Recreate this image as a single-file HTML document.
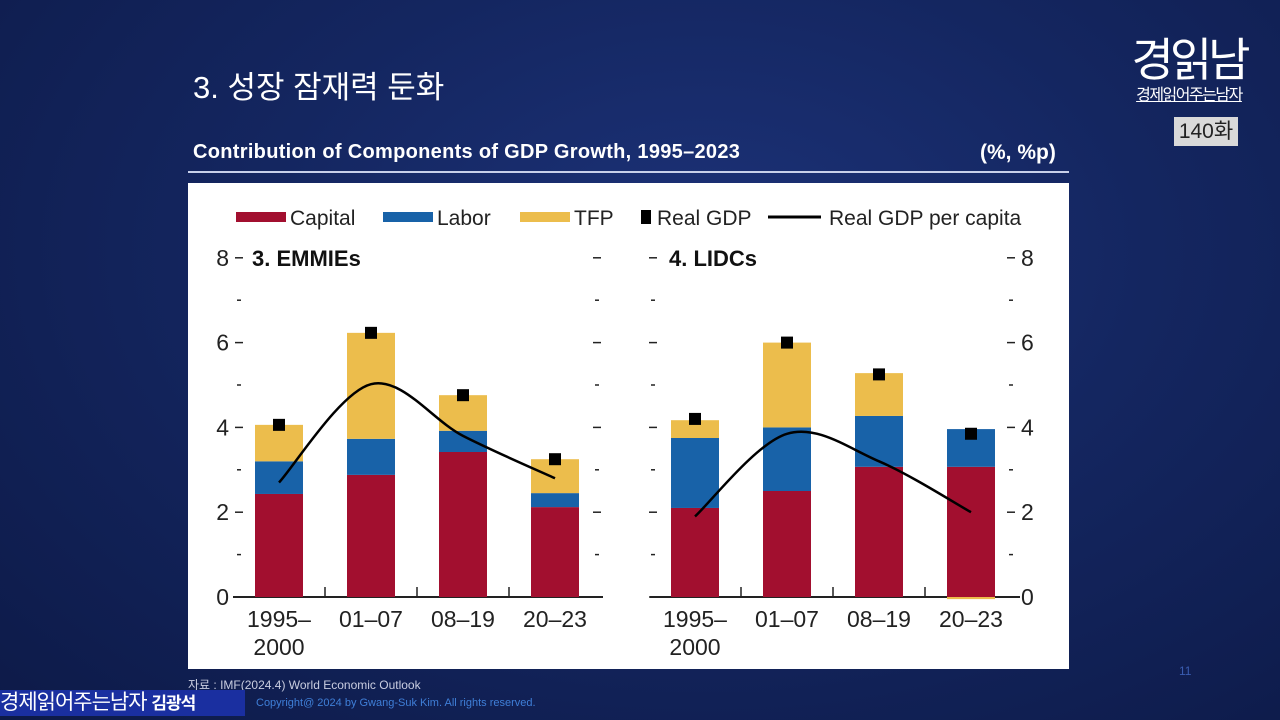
<!DOCTYPE html>
<html><head><meta charset="utf-8">
<style>
html,body{margin:0;padding:0;width:1280px;height:720px;overflow:hidden}
body{background:radial-gradient(ellipse at 55% 35%,#1c3278 0%,#142660 45%,#0d1a48 100%);font-family:"Liberation Sans","Noto Sans CJK KR",sans-serif;position:relative}
.abs{position:absolute}
</style></head><body>
<div class="abs" style="left:193px;top:62px;color:#fff;font-size:31px;font-family:'Liberation Sans','Noto Sans CJK KR',sans-serif;">3. 성장 잠재력 둔화</div>
<div class="abs" style="left:193px;top:141px;color:#fff;font-size:20px;font-weight:bold;letter-spacing:0.3px">Contribution of Components of GDP Growth, 1995–2023</div>
<div class="abs" style="left:980px;top:141px;color:#fff;font-size:21px;font-weight:bold;">(%, %p)</div>
<div class="abs" style="left:188px;top:171px;width:881px;height:2px;background:#c8d0ea"></div>
<div class="abs" style="left:1128px;top:34px;width:122px;color:#fff;text-align:center">
  <div style="font-size:46px;line-height:52px;letter-spacing:-4px">경읽남</div>
  <div style="font-size:16px;line-height:20px;letter-spacing:-1.5px;text-decoration:underline">경제읽어주는남자</div>
</div>
<div class="abs" style="left:1174px;top:117px;width:64px;height:29px;background:#d9d9d9;color:#222;font-size:21px;line-height:29px;text-align:center">140화</div>
<div class="abs" style="left:1179px;top:664px;color:#3a5cb0;font-size:12px">11</div>
<div class="abs" style="left:188px;top:676px;color:#c9cde0;font-size:12px">자료 : IMF(2024.4) World Economic Outlook</div>
<div class="abs" style="left:0;top:690px;width:245px;height:26px;background:#1a2fa0;color:#fff;font-size:21px;line-height:26px;white-space:nowrap;letter-spacing:-1px">경제읽어주는남자 <b style="font-size:17px">김광석</b></div>
<div class="abs" style="left:256px;top:697px;color:#3f7fd8;font-size:11px">Copyright@ 2024 by Gwang-Suk Kim. All rights reserved.</div>

<svg class="abs" style="left:0;top:0" width="1280" height="720" id="chart">
<rect x="188" y="183" width="881" height="486" fill="#fff"/>
</svg>
<script>
const categories=["1995–|2000","01–07","08–19","20–23"];
const emmCapital=[2.43,2.88,3.42,2.12];
const emmLabor=[0.77,0.85,0.5,0.33];
const emmTFP=[0.86,2.5,0.84,0.8];
const emmGDP=[4.06,6.23,4.76,3.25];
const emmPerCap=[2.7,5.02,3.8,2.8];
const lidCapital=[2.1,2.5,3.07,3.07];
const lidLabor=[1.65,1.5,1.2,0.89];
const lidTFP=[0.42,2.0,1.01,-0.05];
const lidGDP=[4.2,6.0,5.25,3.85];
const lidPerCap=[1.9,3.85,3.2,2.0];
const yTicks=[0,2,4,6,8];
const svg=document.getElementById('chart');
const NS='http://www.w3.org/2000/svg';
const FONT='"Liberation Sans Narrow","Liberation Sans",sans-serif';
function mk(tag,attrs,txt){const e=document.createElementNS(NS,tag);for(const k in attrs)e.setAttribute(k,attrs[k]);if(txt!=null)e.textContent=txt;svg.appendChild(e);return e;}
const y0=597,yUnit=42.4;
function yS(v){return y0-v*yUnit;}
const COL={cap:'#a20f2f',lab:'#1862a8',tfp:'#ecbd4c'};
function panel(p){
  const xS=i=>p.x0+i*92;
  let e=mk('line',{x1:p.ax1,x2:p.ax2,y1:y0,y2:y0,stroke:'#222','stroke-width':2});
  
  for(let v=0;v<=8;v++){
    const major=v%2===0;
    [p.lt,p.rt].forEach(tx=>{
      const t=mk('line',{x1:tx-(major?4:2),x2:tx+(major?4:2),y1:yS(v),y2:yS(v),stroke:'#222','stroke-width':1.5});
      
    });
  }
  yTicks.forEach(v=>{
    if(p.labelSide==='left'){
      const t=mk('text',{x:p.lt-10,y:yS(v)+8,'text-anchor':'end','font-size':23,fill:'#222','font-family':FONT},String(v));
      
    } else {
      const t=mk('text',{x:p.rt+10,y:yS(v)+8,'text-anchor':'start','font-size':23,fill:'#222','font-family':FONT},String(v));
      
    }
  });
  for(let i=0;i<3;i++){
    const t=mk('line',{x1:xS(i)+46,x2:xS(i)+46,y1:y0,y2:y0-10,stroke:'#222','stroke-width':1.5});
    
  }
  const tt=mk('text',{x:p.titleX,y:266,'font-size':22,'font-weight':'bold',fill:'#111','font-family':FONT},p.title);
  
  categories.forEach((c,i)=>{
    const x=xS(i)-24,w=48;
    const cap=p.cap[i],lab=p.lab[i],tfp=p.tfp[i];
    let r=mk('rect',{x:x,y:yS(cap),width:w,height:cap*yUnit,fill:COL.cap});
    
    r=mk('rect',{x:x,y:yS(cap+lab),width:w,height:lab*yUnit,fill:COL.lab});
    
    if(tfp>=0){r=mk('rect',{x:x,y:yS(cap+lab+tfp),width:w,height:tfp*yUnit,fill:COL.tfp});}
    else{r=mk('rect',{x:x,y:y0,width:w,height:-tfp*yUnit,fill:COL.tfp});}
    
    r=mk('rect',{x:xS(i)-6,y:yS(p.gdp[i])-6,width:12,height:12,fill:'#000'});
    
    const parts=c.split('|');
    parts.forEach((s,k)=>{
      const t=mk('text',{x:xS(i),y:627+k*28,'text-anchor':'middle','font-size':23,fill:'#222','font-family':FONT},s);
      
    });
  });
  const pts=p.pc.map((v,i)=>[xS(i),yS(v)]);
  let d='M'+pts[0][0]+','+pts[0][1];
  for(let i=0;i<pts.length-1;i++){
    const p0=pts[Math.max(0,i-1)],p1=pts[i],p2=pts[i+1],p3=pts[Math.min(pts.length-1,i+2)];
    const c1=[p1[0]+(p2[0]-p0[0])/6,p1[1]+(p2[1]-p0[1])/6];
    const c2=[p2[0]-(p3[0]-p1[0])/6,p2[1]-(p3[1]-p1[1])/6];
    d+=' C'+c1+' '+c2+' '+p2;
  }
  const l=mk('path',{d:d,fill:'none',stroke:'#000','stroke-width':2.5});
  
}
panel({id:'emmies',x0:279,ax1:233,ax2:603,lt:239,rt:597,labelSide:'left',title:'3. EMMIEs',titleX:252,cap:emmCapital,lab:emmLabor,tfp:emmTFP,gdp:emmGDP,pc:emmPerCap});
panel({id:'lidcs',x0:695,ax1:650,ax2:1020,lt:653,rt:1011,labelSide:'right',title:'4. LIDCs',titleX:669,cap:lidCapital,lab:lidLabor,tfp:lidTFP,gdp:lidGDP,pc:lidPerCap});
const leg=[['Capital',COL.cap,236,'box'],['Labor',COL.lab,383,'box'],['TFP',COL.tfp,520,'box'],['Real GDP','#000',641,'sq'],['Real GDP per capita','#000',768,'line']];
leg.forEach(L=>{
  let s;
  if(L[3]==='box'){s=mk('rect',{x:L[2],y:212,width:50,height:10,fill:L[1]});}
  else if(L[3]==='sq'){s=mk('rect',{x:L[2],y:210,width:10,height:14,fill:'#000'});}
  else {s=mk('line',{x1:L[2],x2:L[2]+53,y1:217,y2:217,stroke:'#000','stroke-width':3});}
  
  const off=L[3]==='box'?54:(L[3]==='sq'?16:61);
  const t=mk('text',{x:L[2]+off,y:225,'font-size':21,fill:'#222','font-family':FONT},L[0]);
  
});
</script>
</body></html>
